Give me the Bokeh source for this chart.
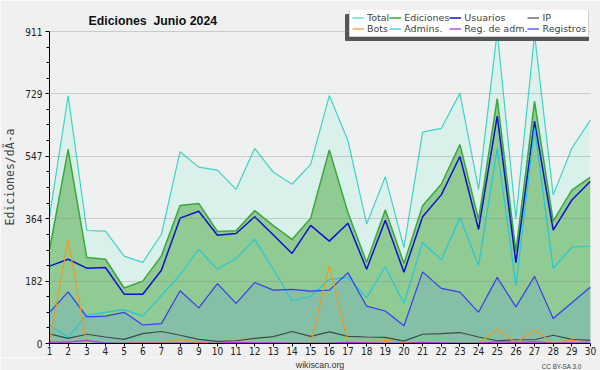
from bokeh.plotting import figure
from bokeh.layouts import column
from bokeh.models import Range1d, FixedTicker, Legend, LegendItem, Label, BoxAnnotation
from bokeh.embed import file_html
from bokeh.resources import INLINE

days = list(range(1, 31))
total = [370, 723, 330, 328, 255, 237, 319, 560, 515, 506, 450, 570, 500, 465, 523,
         724, 592, 349, 487, 280, 617, 628, 731, 450, 911, 365, 903, 434, 570, 653]
ediciones = [273, 567, 251, 246, 162, 182, 256, 403, 409, 327, 329, 388, 344, 304, 366,
             565, 382, 237, 390, 234, 402, 465, 581, 362, 715, 268, 707, 357, 448, 486]
usuarios = [226, 246, 220, 222, 144, 144, 214, 366, 386, 316, 321, 370, 317, 263, 345,
            299, 351, 217, 360, 208, 370, 434, 546, 333, 664, 236, 649, 331, 419, 474]
admins = [54, 18, 83, 91, 99, 80, 140, 200, 275, 217, 248, 304, 216, 124, 138,
          187, 193, 134, 224, 117, 295, 244, 368, 228, 570, 169, 628, 219, 281, 284]
registros = [91, 151, 78, 80, 91, 54, 58, 154, 104, 175, 117, 178, 156, 158, 153,
             156, 207, 109, 95, 52, 209, 161, 150, 91, 193, 107, 196, 73, 119, 165]
ip = [28, 15, 27, 19, 12, 29, 35, 24, 12, 6, 8, 15, 20, 35, 21,
      34, 21, 19, 18, 7, 27, 29, 32, 19, 8, 11, 11, 24, 12, 9]
bots = [3, 302, 0, 0, 0, 2, 2, 12, 3, 0, 0, 0, 0, 0, 0,
        228, 3, 2, 10, 3, 0, 0, 0, 0, 41, 2, 39, 0, 10, 3]
reg_adm = [4, 4, 9, 1, 1, 1, 1, 1, 1, 1, 3, 2, 2, 1, 1,
           1, 3, 2, 1, 1, 3, 2, 1, 1, 5, 3, 5, 1, 2, 2]
y_ticks = [0, 182, 364, 547, 729, 911]
title_words = ["Ediciones", "Junio 2024"]
y_label = "Ediciones/dÃ-a"

# layout (pixels)
W, H, FOOT_H = 600, 357, 13
LEFT, RIGHT, TOP, BOTTOM = 46, 10, 10, 14
FRAME_H = H - BOTTOM - TOP
FRAME_W = W - LEFT - RIGHT
TOP_GAP = 31 - TOP  # pixels between frame top and the top tick
y_max = y_ticks[-1]
y_end = y_max * FRAME_H / (FRAME_H - TOP_GAP)
x0, x1 = days[0], days[-1]


def sx(px):  # canvas pixel -> frame screen x
    return px - LEFT


def sy(py):  # canvas pixel -> frame screen y (measured up from frame bottom)
    return (H - BOTTOM) - py


p = figure(width=W, height=H, x_range=Range1d(x0, x1), y_range=Range1d(0, y_end),
           output_backend="svg", toolbar_location=None, title=None,
           min_border_left=LEFT, min_border_right=RIGHT, min_border_top=TOP,
           min_border_bottom=BOTTOM)
p.background_fill_color = "#eff0f0"
p.border_fill_color = "#f0f0f0"
p.outline_line_color = None

# fills
p.varea(x=days, y1=0, y2=total, fill_color="#d9f1ea")
p.varea(x=days, y1=0, y2=ediciones, fill_color="#90cb94")
p.varea(x=days, y1=0, y2=registros, fill_color="#85bfa5")

# lines
r_total = p.line(days, total, line_color="#3ed4c6", line_width=1.2)
r_edic = p.line(days, ediciones, line_color="#3aa83a", line_width=1.5)
r_usu = p.line(days, usuarios, line_color="#1010d0", line_width=1.5)
r_adm = p.line(days, admins, line_color="#22c8da", line_width=1.2)
r_reg = p.line(days, registros, line_color="#3a3af0", line_width=1.2)
r_ip = p.line(days, ip, line_color="#404850", line_width=1.2)
r_bots = p.line(days, bots, line_color="#f09a20", line_width=1.2)
r_radm = p.line(days, reg_adm, line_color="#c030e0", line_width=1.3)

# axes
minor = []
for a, b in zip(y_ticks[:-1], y_ticks[1:]):
    minor += [a + (b - a) * k / 4 for k in range(1, 4)]
p.xaxis.ticker = FixedTicker(ticks=days)
p.yaxis.ticker = FixedTicker(ticks=y_ticks, minor_ticks=minor)
p.yaxis.bounds = (0, y_max)
for ax in (p.xaxis, p.yaxis):
    ax.axis_line_color = "black"
    ax.major_tick_line_color = "black"
    ax.minor_tick_line_color = "black"
    ax.major_tick_out = 4
    ax.major_tick_in = 0
    ax.minor_tick_out = 3
    ax.minor_tick_in = 0
    ax.major_label_text_font = "'Liberation Sans Narrow', 'DejaVu Sans Condensed', sans-serif"
    ax.major_label_text_font_size = "10px"
    ax.major_label_text_color = "#222222"
    ax.major_label_standoff = 3
p.xaxis.minor_tick_line_color = None
p.xaxis.major_tick_out = 3
p.xaxis.major_label_standoff = 0
p.yaxis.axis_label = y_label
p.yaxis.axis_label_text_font = "DejaVu Sans Mono"
p.yaxis.axis_label_text_font_style = "normal"
p.yaxis.axis_label_text_font_size = "11.5px"
p.yaxis.axis_label_standoff = 5
p.xgrid.visible = False
p.ygrid.grid_line_color = "#888888"
p.ygrid.grid_line_alpha = 0.35
p.ygrid.level = "overlay"

# title (inside the frame's top band)
for word, xpos in zip(title_words, [85, 150]):
    p.add_layout(Label(x=sx(xpos), y=sy(20), x_units="screen", y_units="screen",
                       text=word, text_font="Liberation Sans", text_font_style="bold",
                       text_font_size="12.3px", text_color="#111111",
                       text_baseline="alphabetic"))

# legend shadow and legend
p.add_layout(BoxAnnotation(left=sx(342), right=sx(585), top=sy(14), bottom=sy(40),
                           left_units="screen", right_units="screen",
                           top_units="screen", bottom_units="screen",
                           fill_color="#555555", fill_alpha=1,
                           line_color="#555555", line_alpha=1))

items = [LegendItem(label="Total", renderers=[r_total]),
         LegendItem(label="Ediciones", renderers=[r_edic]),
         LegendItem(label="Usuarios", renderers=[r_usu]),
         LegendItem(label="IP", renderers=[r_ip]),
         LegendItem(label="Bots", renderers=[r_bots]),
         LegendItem(label="Admins.", renderers=[r_adm]),
         LegendItem(label="Reg. de adm.", renderers=[r_radm]),
         LegendItem(label="Registros", renderers=[r_reg])]
legend = Legend(items=items, orientation="horizontal", ncols=4,
                location=(sx(346), sy(37)),
                label_text_font="DejaVu Sans", label_text_font_size="9.5px",
                label_height=9, glyph_height=9, glyph_width=12, label_standoff=3,
                spacing=0, padding=2, margin=0, border_line_color="#a0a0a0",
                background_fill_color="white", background_fill_alpha=1)
p.add_layout(legend)

# footer
f = figure(width=W, height=FOOT_H, x_range=Range1d(0, W), y_range=Range1d(0, FOOT_H),
           output_backend="svg", toolbar_location=None, title=None,
           x_axis_location=None, y_axis_location=None, min_border=0)
f.background_fill_color = "#f0f0f0"
f.border_fill_color = "#f0f0f0"
f.outline_line_color = None
f.xgrid.visible = False
f.ygrid.visible = False
f.add_layout(Label(x=300, y=6, text="wikiscan.org",
                   text_font="Liberation Sans", text_font_size="8.8px", text_color="#333333",
                   text_align="center", text_baseline="alphabetic"))
f.add_layout(Label(x=590, y=4.5, text="CC BY-SA 3.0",
                   text_font="Liberation Sans", text_font_size="6.3px", text_color="#444444",
                   text_align="right", text_baseline="alphabetic"))

layout = column(p, f, spacing=0)
open("out.html", "w").write(file_html(layout, INLINE))
